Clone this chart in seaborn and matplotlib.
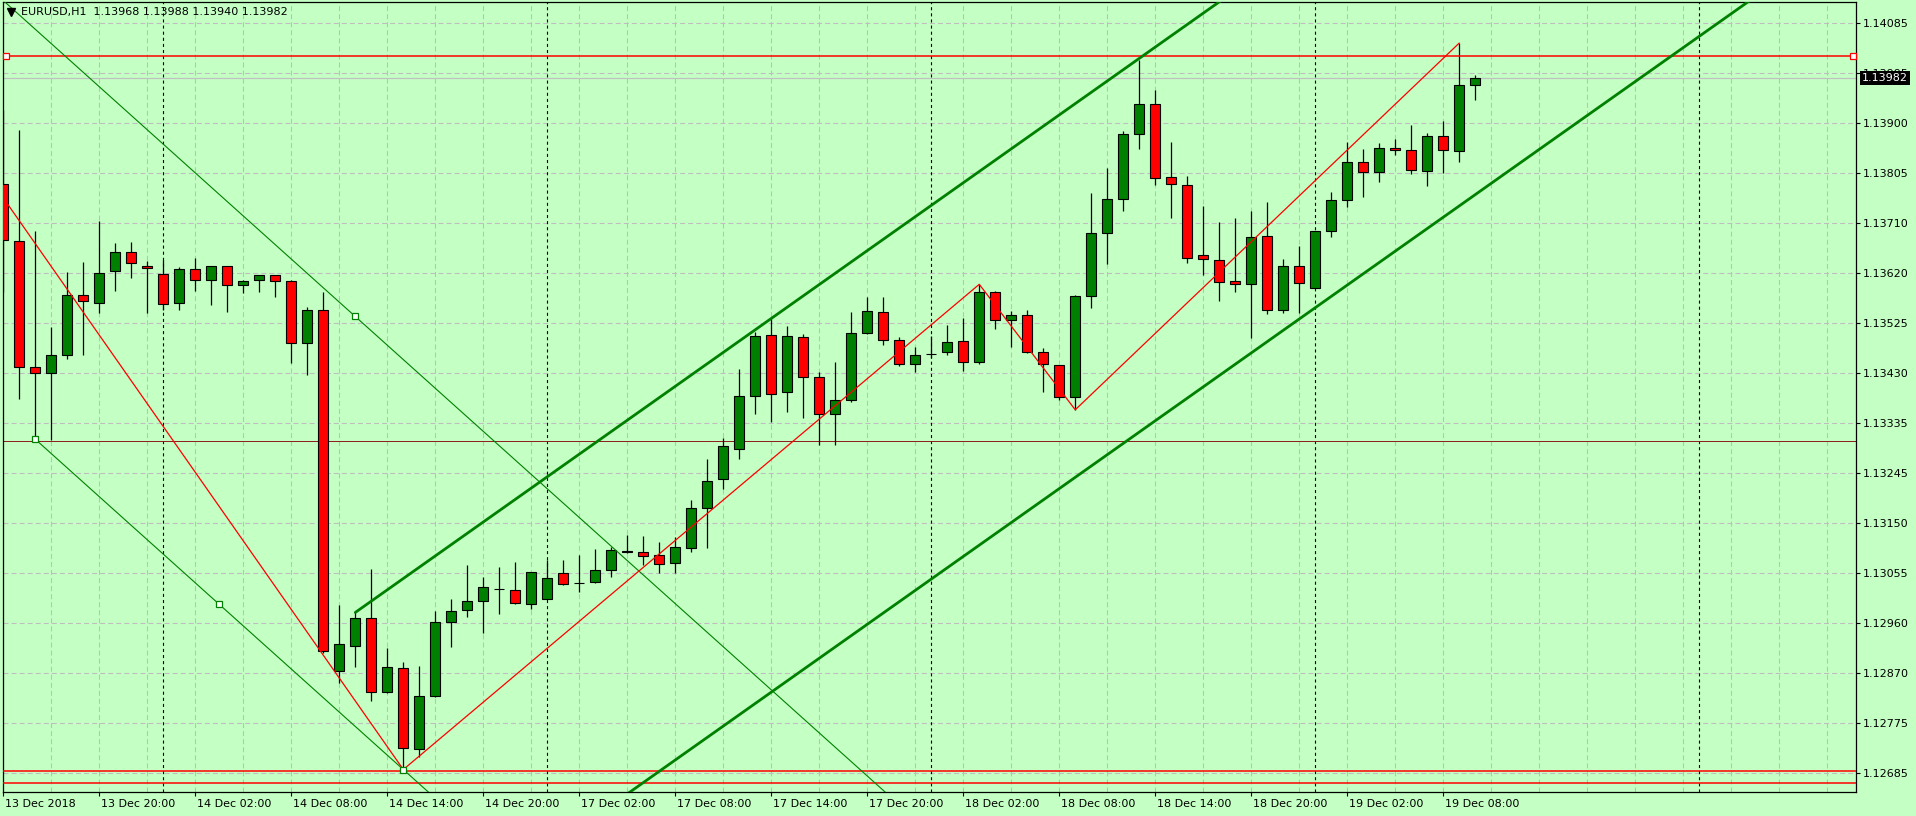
import numpy as np
import matplotlib
matplotlib.use("Agg")
import matplotlib.pyplot as plt
import seaborn as sns
from matplotlib.lines import Line2D
from matplotlib.ticker import MultipleLocator
from matplotlib.transforms import blended_transform_factory, ScaledTranslation

# ---------------- data (EURUSD H1, bar 0 = 13 Dec 2018 14:00) ----------------
opens = [1.13784, 1.13678, 1.13442, 1.13431, 1.13466, 1.13577, 1.13562, 1.13621, 1.13657, 1.13632,
         1.13616, 1.13562, 1.13625, 1.13605, 1.13631, 1.13595, 1.13606, 1.13614, 1.13603, 1.13487,
         1.13550, 1.12875, 1.12923, 1.12974, 1.12837, 1.12881, 1.12731, 1.12829, 1.12967, 1.12989,
         1.13006, 1.13029, 1.13026, 1.13000, 1.13011, 1.13058, 1.13040, 1.13041, 1.13064, 1.13100,
         1.13098, 1.13092, 1.13077, 1.13106, 1.13179, 1.13233, 1.13289, 1.13388, 1.13502, 1.13396,
         1.13498, 1.13425, 1.13356, 1.13381, 1.13506, 1.13545, 1.13494, 1.13449, 1.13467, 1.13470,
         1.13491, 1.13453, 1.13583, 1.13530, 1.13539, 1.13470, 1.13446, 1.13386, 1.13575, 1.13692,
         1.13757, 1.13877, 1.13933, 1.13797, 1.13782, 1.13651, 1.13642, 1.13603, 1.13597, 1.13688,
         1.13549, 1.13632, 1.13591, 1.13696, 1.13754, 1.13825, 1.13806, 1.13851, 1.13847, 1.13808,
         1.13873, 1.13845, 1.13968]
highs = [1.13922, 1.13885, 1.13696, 1.13518, 1.13620, 1.13639, 1.13715, 1.13674, 1.13676, 1.13640,
         1.13642, 1.13629, 1.13646, 1.13632, 1.13632, 1.13605, 1.13615, 1.13615, 1.13605, 1.13554,
         1.13582, 1.12999, 1.12985, 1.13066, 1.12919, 1.12892, 1.12885, 1.12988, 1.13010, 1.13073,
         1.13052, 1.13070, 1.13079, 1.13061, 1.13083, 1.13083, 1.13093, 1.13103, 1.13108, 1.13129,
         1.13128, 1.13116, 1.13126, 1.13195, 1.13271, 1.13310, 1.13439, 1.13509, 1.13535, 1.13519,
         1.13504, 1.13433, 1.13453, 1.13545, 1.13573, 1.13573, 1.13498, 1.13480, 1.13500, 1.13521,
         1.13535, 1.13597, 1.13584, 1.13547, 1.13549, 1.13478, 1.13447, 1.13578, 1.13767, 1.13814,
         1.13883, 1.14015, 1.13959, 1.13862, 1.13799, 1.13743, 1.13713, 1.13720, 1.13733, 1.13750,
         1.13644, 1.13668, 1.13697, 1.13769, 1.13862, 1.13849, 1.13860, 1.13869, 1.13894, 1.13879,
         1.13901, 1.14047, 1.13988]
lows = [1.13583, 1.13383, 1.13308, 1.13307, 1.13458, 1.13466, 1.13544, 1.13585, 1.13609, 1.13544,
        1.13549, 1.13550, 1.13585, 1.13559, 1.13546, 1.13581, 1.13583, 1.13574, 1.13451, 1.13428,
        1.12909, 1.12854, 1.12884, 1.12819, 1.12835, 1.12692, 1.12715, 1.12827, 1.12921, 1.12977,
        1.12947, 1.12983, 1.13001, 1.12991, 1.13010, 1.13037, 1.13024, 1.13040, 1.13051, 1.13096,
        1.13073, 1.13059, 1.13058, 1.13098, 1.13106, 1.13216, 1.13271, 1.13355, 1.13341, 1.13359,
        1.13347, 1.13297, 1.13297, 1.13378, 1.13505, 1.13484, 1.13445, 1.13434, 1.13459, 1.13466,
        1.13436, 1.13448, 1.13513, 1.13481, 1.13469, 1.13396, 1.13381, 1.13363, 1.13552, 1.13634,
        1.13734, 1.13850, 1.13783, 1.13721, 1.13637, 1.13615, 1.13566, 1.13583, 1.13496, 1.13542,
        1.13544, 1.13544, 1.13590, 1.13686, 1.13741, 1.13760, 1.13787, 1.13838, 1.13802, 1.13780,
        1.13804, 1.13825, 1.13940]
closes = [1.13680, 1.13443, 1.13431, 1.13465, 1.13577, 1.13565, 1.13619, 1.13657, 1.13636, 1.13627,
          1.13560, 1.13625, 1.13605, 1.13631, 1.13595, 1.13603, 1.13614, 1.13603, 1.13487, 1.13550,
          1.12913, 1.12926, 1.12974, 1.12837, 1.12883, 1.12733, 1.12830, 1.12968, 1.12987, 1.13006,
          1.13032, 1.13029, 1.13002, 1.13060, 1.13049, 1.13038, 1.13040, 1.13064, 1.13101, 1.13097,
          1.13090, 1.13075, 1.13108, 1.13179, 1.13231, 1.13295, 1.13388, 1.13500, 1.13392, 1.13500,
          1.13425, 1.13355, 1.13381, 1.13506, 1.13547, 1.13494, 1.13449, 1.13466, 1.13467, 1.13489,
          1.13453, 1.13583, 1.13530, 1.13539, 1.13470, 1.13448, 1.13386, 1.13575, 1.13692, 1.13757,
          1.13877, 1.13933, 1.13795, 1.13785, 1.13647, 1.13644, 1.13601, 1.13597, 1.13685, 1.13550,
          1.13632, 1.13599, 1.13696, 1.13754, 1.13825, 1.13806, 1.13851, 1.13847, 1.13810, 1.13873,
          1.13847, 1.13968, 1.13982]

title_text = "EURUSD,H1  1.13968 1.13988 1.13940 1.13982"
bid_price = 1.13982
bid_label = "1.13982"

ytick_labels = ["1.12685", "1.12775", "1.12870", "1.12960", "1.13055", "1.13150", "1.13245", "1.13335",
                "1.13430", "1.13525", "1.13620", "1.13710", "1.13805", "1.13900", "1.13995", "1.14085"]
xtick_bars = [0, 6, 12, 18, 24, 30, 36, 42, 48, 54, 60, 66, 72, 78, 84, 90]
xtick_labels = ["13 Dec 2018", "13 Dec 20:00", "14 Dec 02:00", "14 Dec 08:00", "14 Dec 14:00",
                "14 Dec 20:00", "17 Dec 02:00", "17 Dec 08:00", "17 Dec 14:00", "17 Dec 20:00",
                "18 Dec 02:00", "18 Dec 08:00", "18 Dec 14:00", "18 Dec 20:00", "19 Dec 02:00",
                "19 Dec 08:00"]
day_start_bars = [10, 34, 58, 82, 106]

# drawn objects
zigzag_bars = [-3, 25, 61, 67, 91]
zigzag_prices = [1.13886, 1.12692, 1.13597, 1.13363, 1.14047]

chan_start_bar = 22
chan_upper_start = 1.12985
chan_lower_start = 1.12288
chan_slope = 0.0002109          # price per bar

down_p1_bar, down_p1_price = 2, 1.13308
down_p2_bar, down_p2_price = 25, 1.12692
down_p3_bar, down_p3_price = 22, 1.13537

hline_top = 1.14022
hline_mid = 1.13304
hlines_bottom = [1.12690, 1.12666]

# ---------------- style ----------------
BG = "#C4FFC4"
BULL = "#008000"
BEAR = "#FF0000"
GRID = "#C0BCC0"

sns.set_style("ticks")
plt.rcParams["font.family"] = ["DejaVu Sans"]
plt.rcParams["lines.scale_dashes"] = False

W, H = 1916, 816
fig = plt.figure(figsize=(W / 100, H / 100), dpi=100, facecolor=BG)
ax = fig.add_axes([3 / W, 24 / H, 1853 / W, 790 / H], facecolor=BG)

o = np.array(opens); h = np.array(highs); l = np.array(lows); c = np.array(closes)
x = np.arange(len(o))

# grid & separators
ax.set_xlim(-0.02, 115.8)
ax.set_ylim(1.126501, 1.141236)
ax.set_yticks(np.linspace(1.12685, 1.14085, len(ytick_labels)))
ax.set_yticklabels(ytick_labels)
ax.yaxis.tick_right()
ax.set_xticks(xtick_bars)
ax.set_xticklabels(xtick_labels, ha="left")
ax.xaxis.set_minor_locator(MultipleLocator(3))
ax.grid(True, which="both", axis="x", color=GRID, ls=(0, (3.6, 2.2)), lw=0.75, zorder=0)
ax.grid(True, which="major", axis="y", color=GRID, ls=(0, (3.6, 2.2)), lw=0.75, zorder=0)
ax.set_axisbelow(True)
for b in day_start_bars:
    ax.axvline(b, color="black", ls=(0, (2.2, 2.2)), lw=0.8, zorder=1)

# horizontal objects
ax.axhline(bid_price, color="#C0C0C0", lw=0.9, zorder=2)
ax.axhline(hline_mid, color="#8B1A1A", lw=0.7, zorder=2)
for p in hlines_bottom:
    ax.axhline(p, color="red", lw=1.1, zorder=5)
ax.axhline(hline_top, color="red", lw=1.1, zorder=5)
tb = blended_transform_factory(ax.transAxes, ax.transData)
ax.plot([0.0015, 0.9985], [hline_top, hline_top], ls="none", marker="s", ms=4.5,
        mfc="white", mec="red", mew=0.9, transform=tb, zorder=7, clip_on=False)

# candles
ax.vlines(x, l, h, color="black", lw=0.9, zorder=3)
body_colors = np.where(c > o, BULL, np.where(c < o, BEAR, "black"))
ax.bar(x, np.abs(c - o), bottom=np.minimum(o, c), width=0.62, color=body_colors,
       edgecolor="black", linewidth=0.8, zorder=4)

# thick up-channel
cx = np.array([chan_start_bar, 130])
ax.plot(cx, chan_upper_start + chan_slope * (cx - chan_start_bar), color="#008000", lw=2.0, zorder=5)
ax.plot(cx, chan_lower_start + chan_slope * (cx - chan_start_bar), color="#008000", lw=2.0, zorder=5)

# thin down-channel
dslope = (down_p2_price - down_p1_price) / (down_p2_bar - down_p1_bar)
bx = np.array([down_p1_bar, 130])
ax.plot(bx, down_p1_price + dslope * (bx - down_p1_bar), color="#008000", lw=0.8, zorder=5)
axx = np.array([-10, 130])
ax.plot(axx, down_p3_price + dslope * (axx - down_p3_bar), color="#008000", lw=0.8, zorder=5)
mid_bar = (down_p1_bar + down_p2_bar) / 2
mk_bars = [down_p1_bar, mid_bar, down_p2_bar, down_p3_bar]
mk_prices = [down_p1_price, down_p1_price + dslope * (mid_bar - down_p1_bar), down_p2_price, down_p3_price]
ax.plot(mk_bars, mk_prices, ls="none", marker="s", ms=4.5, mfc="white", mec="#008000", mew=0.9, zorder=8)

# zigzag
sns.lineplot(x=zigzag_bars, y=zigzag_prices, ax=ax, color="red", lw=0.9, sort=False,
             estimator=None, zorder=6)

# axes cosmetics
for s in ax.spines.values():
    s.set_color("black"); s.set_linewidth(0.9); s.set_visible(True)
ax.tick_params(axis="both", which="major", length=3, width=0.8, direction="out",
               labelsize=8, pad=2.2, colors="black")
ax.tick_params(axis="x", which="minor", length=0)
shift = ScaledTranslation(2 / 100, 0, fig.dpi_scale_trans)
for lab in ax.get_xticklabels():
    lab.set_transform(lab.get_transform() + shift)
ax.set_xlabel(""); ax.set_ylabel("")

# bid price label box (covers the 1.13995 tick label, as in the terminal)
ax.text(1.0, bid_price, bid_label, transform=tb + ScaledTranslation(6 / 100, 0, fig.dpi_scale_trans),
        ha="left", va="center", color="white", fontsize=8, clip_on=False, zorder=10,
        bbox=dict(boxstyle="square,pad=0.2", fc="black", ec="none"))

# title
fig.add_artist(Line2D([11 / W], [1 - 12 / H], marker="v", ms=6, color="black", ls="none",
                      transform=fig.transFigure))
fig.text(21 / W, 1 - 12.5 / H, title_text, fontsize=8, va="center", ha="left", color="black")

fig.savefig("out.png", dpi=100, facecolor=BG)
